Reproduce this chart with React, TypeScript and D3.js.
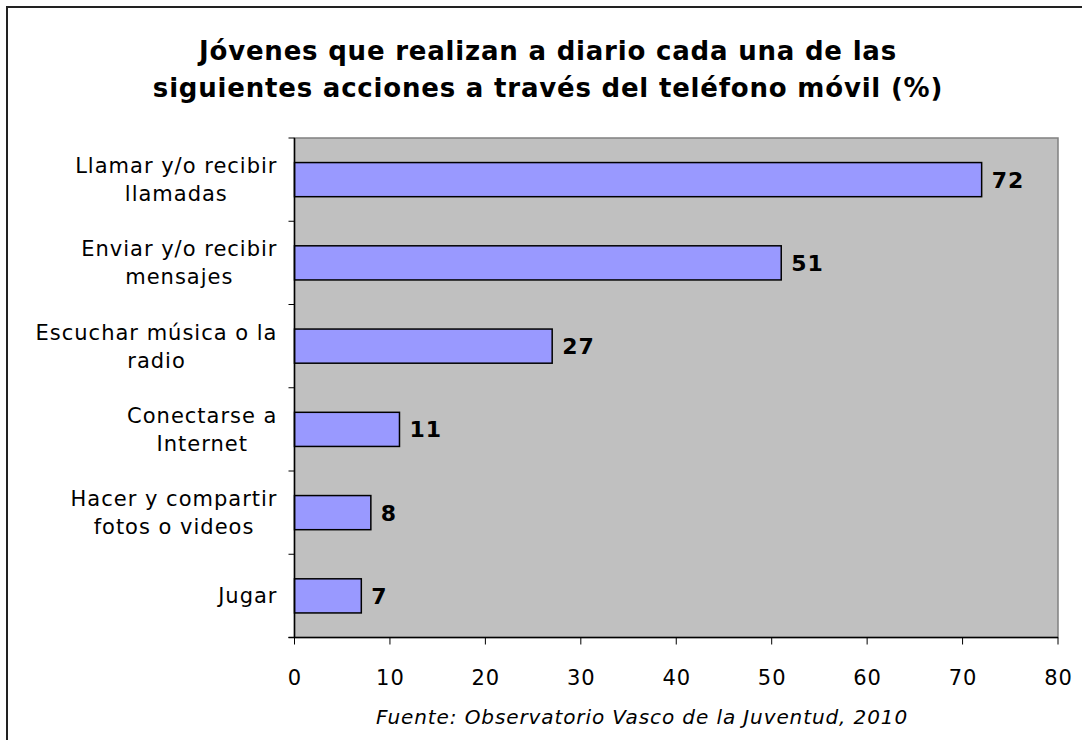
import * as d3 from "d3";
import { useMemo } from "react";

const categories = [
  ["Llamar y/o recibir", "llamadas"],
  ["Enviar y/o recibir", "mensajes"],
  ["Escuchar música o la", "radio"],
  ["Conectarse a", "Internet"],
  ["Hacer y compartir", "fotos o videos"],
  ["Jugar"],
];
const values = [72, 51, 27, 11, 8, 7];
const xTicks = [0, 10, 20, 30, 40, 50, 60, 70, 80];
const titleLines = [
  "Jóvenes que realizan a diario cada una de las",
  "siguientes acciones a través del teléfono móvil (%)",
];
const source = "Fuente: Observatorio Vasco de la Juventud, 2010";

const FONT = "'DejaVu Sans', Verdana, sans-serif";

function measure(text: string, font: string, spacing: number) {
  const c = document.createElement("canvas").getContext("2d");
  if (!c) return text.length * 12;
  c.font = font;
  return c.measureText(text).width + spacing * (text.length - 1);
}

export default function App() {
  const width = 1082;
  const height = 740;
  const plot = { left: 294.5, right: 1058, top: 138, bottom: 637.5 };

  const x = d3.scaleLinear([0, 80], [plot.left, plot.right]);
  const idx = categories.map((_, i) => String(i));
  const y = d3
    .scaleBand(idx, [plot.top, plot.bottom])
    .paddingInner(0.59)
    .paddingOuter(0.295);
  const step = y.step();

  const labelSize = 21;
  const labelSpacing = 1;
  const labelRight = 277;
  const labelWidths = useMemo(
    () =>
      categories.map(
        (lines) => d3.max(lines, (l) => measure(l, `${labelSize}px ${FONT}`, labelSpacing)) ?? 0
      ),
    []
  );

  return (
    <svg
      width={width}
      height={height}
      style={{ position: "absolute", left: 0, top: 0, background: "#fff" }}
      fontFamily={FONT}
    >
      <rect x={7} y={7} width={1100} height={760} fill="#fff" stroke="#222" strokeWidth={2} />

      {titleLines.map((t, i) => (
        <text
          key={i}
          x={548}
          y={60 + i * 37}
          textAnchor="middle"
          fontSize={26}
          letterSpacing={0.8}
          fontWeight="bold"
          fill="#000"
        >
          {t}
        </text>
      ))}

      {/* plot area */}
      <rect
        x={plot.left}
        y={plot.top}
        width={plot.right - plot.left}
        height={plot.bottom - plot.top}
        fill="#c0c0c0"
        stroke="#808080"
        strokeWidth={1.5}
      />

      {values.map((v, i) => {
        const y0 = y(String(i)) ?? 0;
        return (
          <g key={i}>
            <rect
              x={x(0)}
              y={y0}
              width={x(v) - x(0)}
              height={y.bandwidth()}
              fill="#9999ff"
              stroke="#000"
              strokeWidth={1.5}
            />
            <text
              x={x(v) + 10}
              y={y0 + y.bandwidth() / 2}
              dy="0.36em"
              fontSize={22}
              letterSpacing={1}
              fontWeight="bold"
              fill="#000"
            >
              {v}
            </text>
          </g>
        );
      })}

      {/* axes */}
      <line x1={plot.left} x2={plot.left} y1={plot.top} y2={plot.bottom} stroke="#000" strokeWidth={1.5} />
      <line x1={plot.left - 6} x2={plot.right} y1={plot.bottom} y2={plot.bottom} stroke="#000" strokeWidth={1.5} />
      {d3.range(categories.length + 1).map((k) => (
        <line
          key={k}
          x1={plot.left - 6}
          x2={plot.left}
          y1={plot.top + k * step}
          y2={plot.top + k * step}
          stroke="#000"
          strokeWidth={1}
        />
      ))}
      {xTicks.map((t) => (
        <g key={t}>
          <line x1={x(t)} x2={x(t)} y1={plot.bottom} y2={plot.bottom + 7} stroke="#000" strokeWidth={1} />
          <text x={x(t) + 0.5} y={685} textAnchor="middle" fontSize={21} letterSpacing={1} fill="#000">
            {t}
          </text>
        </g>
      ))}

      {categories.map((lines, i) => {
        const cy = (y(String(i)) ?? 0) + y.bandwidth() / 2;
        const cx = labelRight - labelWidths[i] / 2;
        const lh = 28;
        const start = cy - ((lines.length - 1) * lh) / 2;
        return lines.map((l, j) => (
          <text
            key={`${i}-${j}`}
            x={cx}
            y={start + j * lh}
            dy="0.36em"
            textAnchor="middle"
            fontSize={labelSize}
            letterSpacing={labelSpacing}
            fill="#000"
          >
            {l}
          </text>
        ));
      })}

      <text
        x={642}
        y={724}
        textAnchor="middle"
        fontSize={20}
        letterSpacing={0.9}
        fontStyle="italic"
        fill="#000"
      >
        {source}
      </text>
    </svg>
  );
}
